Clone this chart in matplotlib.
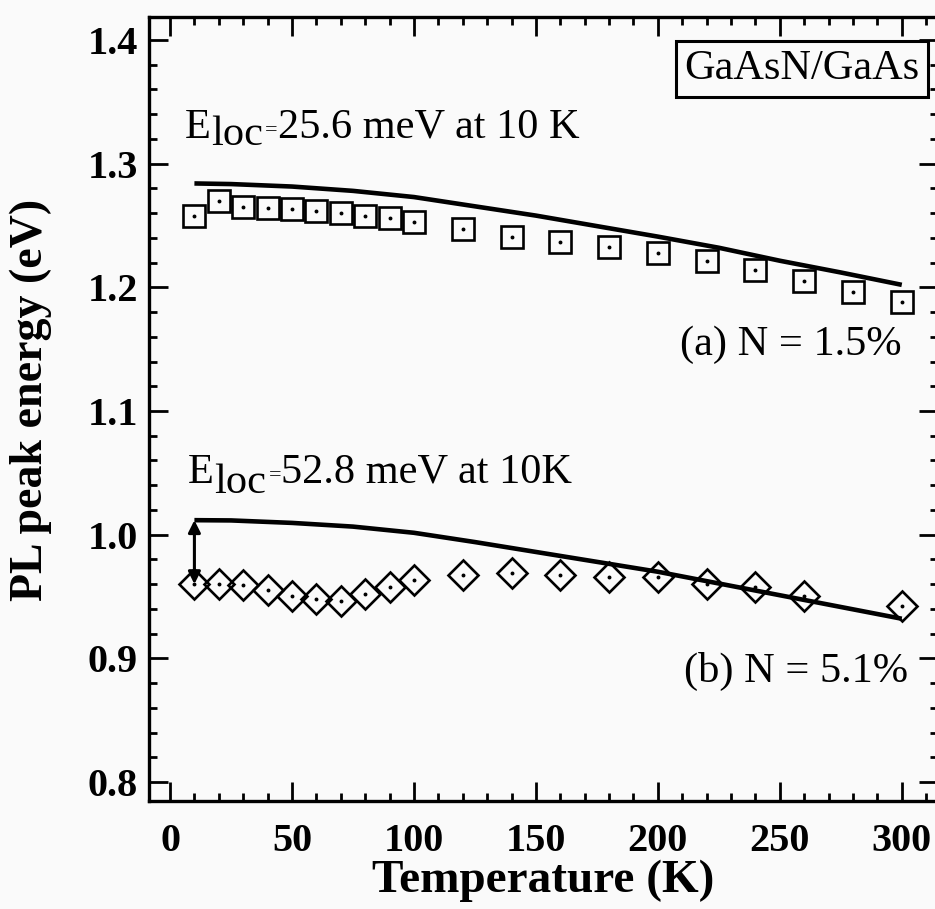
import matplotlib
matplotlib.use('Agg')
import matplotlib.pyplot as plt
from matplotlib.ticker import MultipleLocator

plt.rcParams['font.family'] = ['Liberation Serif', 'DejaVu Serif']

# PL peak positions, (a) N = 1.5 %
temp_a = [10, 20, 30, 40, 50, 60, 70, 80, 90, 100,
          120, 140, 160, 180, 200, 220, 240, 260, 280, 300]
peak_a = [1.258, 1.270, 1.265, 1.264, 1.263, 1.262, 1.260, 1.258, 1.256, 1.253,
          1.247, 1.241, 1.237, 1.233, 1.228, 1.221, 1.214, 1.205, 1.196, 1.188]

# PL peak positions, (b) N = 5.1 %
temp_b = [10, 20, 30, 40, 50, 60, 70, 80, 90, 100,
          120, 140, 160, 180, 200, 220, 240, 260, 300]
peak_b = [0.960, 0.960, 0.959, 0.955, 0.950, 0.948, 0.946, 0.952, 0.958, 0.963,
          0.967, 0.969, 0.967, 0.966, 0.966, 0.960, 0.958, 0.950, 0.942]

# band gap curves (no localization)
temp_fit = [10, 25, 50, 75, 100, 125, 150, 175, 200, 225, 250, 275, 300]
gap_a = [1.284, 1.2835, 1.2815, 1.278, 1.273, 1.2655, 1.258,
         1.2495, 1.241, 1.232, 1.2215, 1.212, 1.202]
gap_b = [1.0117, 1.0115, 1.0095, 1.0065, 1.0015, 0.994, 0.986,
         0.978, 0.970, 0.9605, 0.951, 0.9415, 0.932]

fig = plt.figure(figsize=(9.35, 9.09), dpi=100, facecolor='#fafafa')
ax = fig.add_axes([0.1594, 0.1188, 0.8442, 0.8625])
ax.set_facecolor('#fafafa')

ax.plot(temp_fit, gap_a, color='k', lw=3.3, solid_capstyle='butt', zorder=3)
ax.plot(temp_fit, gap_b, color='k', lw=3.3, solid_capstyle='butt', zorder=3)

ax.plot(temp_a, peak_a, ls='none', marker='s', ms=16.5, mfc='none', mec='k', mew=1.9, zorder=4)
ax.plot(temp_a, peak_a, ls='none', marker='o', ms=1.8, color='k', zorder=4)
ax.plot(temp_b, peak_b, ls='none', marker='D', ms=15.5, mfc='none', mec='k', mew=1.9, zorder=4)
ax.plot(temp_b, peak_b, ls='none', marker='o', ms=1.8, color='k', zorder=4)

# localization energy at 10 K
ax.annotate('', xy=(temp_fit[0], gap_b[0]), xytext=(temp_b[0], peak_b[0]),
            arrowprops=dict(arrowstyle='<|-|>', color='k', lw=2.2,
                            mutation_scale=18, shrinkA=0, shrinkB=0), zorder=5)

fs = 30.5
ax.text(6.1, 1.3208, 'E', fontsize=fs, va='baseline')
ax.text(16.8, 1.3151, 'loc', fontsize=fs, va='baseline')
ax.text(39.0, 1.3232, '=', fontsize=16, va='baseline')
ax.text(44.3, 1.3208, '25.6 meV at 10 K', fontsize=fs, va='baseline')

ax.text(7.4, 1.0418, 'E', fontsize=fs, va='baseline')
ax.text(18.0, 1.0337, 'loc', fontsize=fs, va='baseline')
ax.text(40.6, 1.0442, '=', fontsize=16, va='baseline')
ax.text(45.4, 1.0418, '52.8 meV at 10K', fontsize=fs, va='baseline')

ax.text(300.1, 1.1453, '(a) N = 1.5%', fontsize=fs, ha='right', va='baseline')
ax.text(302.6, 0.8809, '(b) N = 5.1%', fontsize=fs, ha='right', va='baseline')

ax.text(259.1, 1.3766, 'GaAsN/GaAs', fontsize=fs, ha='center', va='center',
        bbox=dict(boxstyle='square,pad=0.2', fc='none', ec='k', lw=2.2))

ax.set_xlim(-8.6, 315)
ax.set_ylim(0.7846, 1.4186)
ax.xaxis.set_major_locator(MultipleLocator(50))
ax.xaxis.set_minor_locator(MultipleLocator(10))
ax.yaxis.set_minor_locator(MultipleLocator(0.02))
ax.set_yticks([0.8, 0.9, 1.0, 1.1, 1.2, 1.3, 1.4])
ax.set_yticklabels(['0.8', '0.9', '1.0', '1.1', '1.2', '1.3', '1.4'])

ax.tick_params(which='both', direction='in', top=True, right=True, color='k')
ax.tick_params(which='major', length=14, width=2)
ax.tick_params(which='minor', length=6, width=2)
ax.tick_params(axis='x', which='major', pad=16)
ax.tick_params(axis='y', which='major', pad=8)
for lab in ax.get_xticklabels() + ax.get_yticklabels():
    lab.set_fontsize(29)
    lab.set_fontweight('bold')
for sp in ax.spines.values():
    sp.set_linewidth(2.4)

fig.text(0.581, 0.008, 'Temperature (K)', fontsize=34, fontweight='bold',
         ha='center', va='bottom')
fig.text(0.033, 0.56, 'PL peak energy (eV)', fontsize=33, fontweight='bold',
         ha='center', va='center', rotation=90)

fig.savefig('out.png', dpi=100, facecolor=fig.get_facecolor())
